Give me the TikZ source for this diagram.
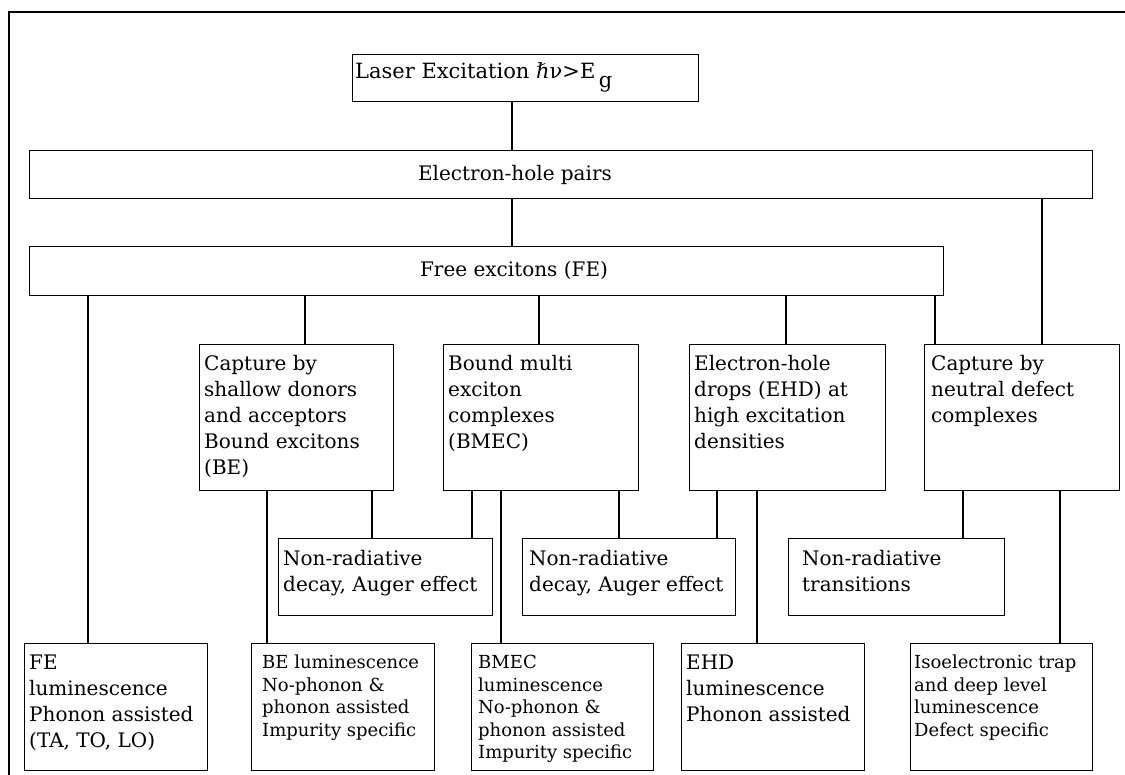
\documentclass[tikz,border=0pt]{standalone}
\usepackage{fontspec}
\setmainfont{DejaVu Serif}
\begin{document}
\begin{tikzpicture}[x=1pt,y=-1pt,
  box/.style={draw, line width=1.4pt, inner sep=0pt, anchor=north west},
  tx/.style={anchor=north west, inner sep=0pt, align=left, font=\fontsize{20}{26}\selectfont},
  txs/.style={anchor=north west, inner sep=0pt, align=left, font=\fontsize{18}{22.5}\selectfont},
  tc/.style={inner sep=0pt, font=\fontsize{20}{26}\selectfont},
  ln/.style={line width=1.4pt}]
\useasboundingbox (0,0) rectangle (1125,775);
% frame
\draw[ln] (9,775) -- (9,12) -- (1125,12);
% boxes
\node[box, minimum width=346pt, minimum height=47pt] (laser) at (352,54) {};
\node[box, minimum width=1063pt, minimum height=48pt] (eh) at (29,150) {};
\node[box, minimum width=914pt, minimum height=49pt] (fe) at (29,246) {};
\node[box, minimum width=194pt, minimum height=146pt] (cs) at (199,344) {};
\node[box, minimum width=195pt, minimum height=146pt] (bm) at (443,344) {};
\node[box, minimum width=196pt, minimum height=146pt] (ehd) at (689,344) {};
\node[box, minimum width=195pt, minimum height=146pt] (cn) at (924,344) {};
\node[box, minimum width=214pt, minimum height=77pt] (nr1) at (278,538) {};
\node[box, minimum width=213pt, minimum height=77pt] (nr2) at (522,538) {};
\node[box, minimum width=216pt, minimum height=77pt] (nr3) at (788,538) {};
\node[box, minimum width=183pt, minimum height=127pt] (fel) at (24,643) {};
\node[box, minimum width=183pt, minimum height=127pt] (bel) at (251,643) {};
\node[box, minimum width=182pt, minimum height=127pt] (bml) at (471,643) {};
\node[box, minimum width=183pt, minimum height=127pt] (ehl) at (681,643) {};
\node[box, minimum width=182pt, minimum height=127pt] (iso) at (910,643) {};
% texts
\node[tx, font=\fontsize{21}{26}\selectfont] (tlaser) at (355,62) {Laser Excitation ℏν>E\,\raisebox{-9pt}{g}};
\node[tc] (teh) at (515,175) {Electron-hole pairs};
\node[tc] (tfe) at (514,270) {Free excitons (FE)};
\node[tx] (tcs) at (204,355) {Capture by\\shallow donors\\and acceptors\\Bound excitons\\(BE)};
\node[tx] (tbm) at (448,355) {Bound multi\\exciton\\complexes\\(BMEC)};
\node[tx] (tehd) at (694,355) {Electron-hole\\drops (EHD) at\\high excitation\\densities};
\node[tx] (tcn) at (931,355) {Capture by\\neutral defect\\complexes};
\node[tx] (tnr1) at (283,550) {Non-radiative\\decay, Auger effect};
\node[tx] (tnr2) at (529,550) {Non-radiative\\decay, Auger effect};
\node[tx] (tnr3) at (802,550) {Non-radiative\\transitions};
\node[tx] (tfel) at (29,655) {FE\\luminescence\\Phonon assisted\\(TA, TO, LO)};
\node[txs] (tbel) at (262,655) {BE luminescence\\No-phonon \&\\phonon assisted\\Impurity specific};
\node[txs] (tbml) at (478,655) {BMEC\\luminescence\\No-phonon \&\\phonon assisted\\Impurity specific};
\node[tx] (tehl) at (686,655) {EHD\\luminescence\\Phonon assisted};
\node[txs] (tiso) at (914,655) {Isoelectronic trap\\and deep level\\luminescence\\Defect specific};
% connectors
\draw[ln] (laser.south -| 512,0) -- (eh.north -| 512,0);
\draw[ln] (eh.south -| 512,0) -- (fe.north -| 512,0);
\draw[ln] (eh.south -| 1042,0) -- (cn.north -| 1042,0);
\draw[ln] (fe.south -| 88,0) -- (fel.north -| 88,0);
\draw[ln] (fe.south -| 305,0) -- (cs.north -| 305,0);
\draw[ln] (fe.south -| 539,0) -- (bm.north -| 539,0);
\draw[ln] (fe.south -| 786,0) -- (ehd.north -| 786,0);
\draw[ln] (fe.south -| 935,0) -- (cn.north -| 935,0);
\draw[ln] (cs.south -| 267,0) -- (bel.north -| 267,0);
\draw[ln] (cs.south -| 372,0) -- (nr1.north -| 372,0);
\draw[ln] (bm.south -| 472,0) -- (nr1.north -| 472,0);
\draw[ln] (bm.south -| 501,0) -- (bml.north -| 501,0);
\draw[ln] (bm.south -| 619,0) -- (nr2.north -| 619,0);
\draw[ln] (ehd.south -| 717,0) -- (nr2.north -| 717,0);
\draw[ln] (ehd.south -| 757,0) -- (ehl.north -| 757,0);
\draw[ln] (cn.south -| 963,0) -- (nr3.north -| 963,0);
\draw[ln] (cn.south -| 1060,0) -- (iso.north -| 1060,0);
\end{tikzpicture}
\end{document}
